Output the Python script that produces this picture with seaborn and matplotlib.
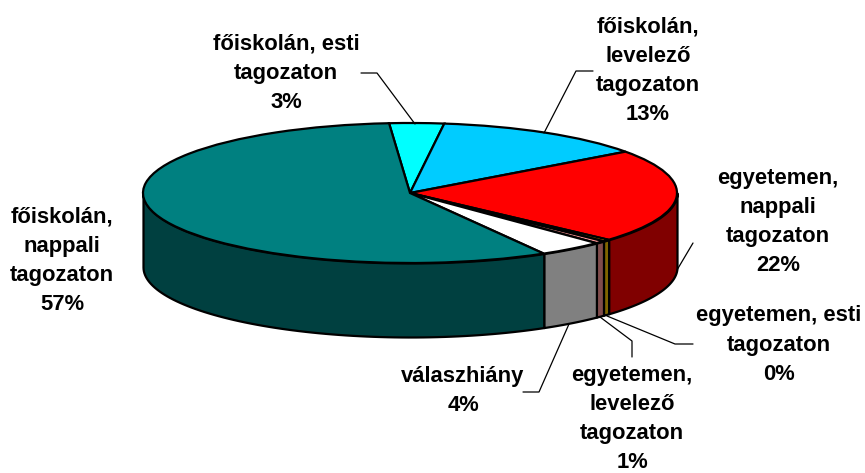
import numpy as np
import matplotlib
matplotlib.use("Agg")
import matplotlib.pyplot as plt
import seaborn as sns

labels = ["főiskolán, esti\ntagozaton\n3%", "főiskolán,\nlevelező\ntagozaton\n13%",
          "egyetemen,\nnappali\ntagozaton\n22%", "egyetemen, esti\ntagozaton\n0%",
          "egyetemen,\nlevelező\ntagozaton\n1%", "válaszhiány\n4%",
          "főiskolán,\nnappali\ntagozaton\n57%"]
values = [3.3, 12.9, 21.7, 0.45, 0.6, 3.95, 57.1]
top_colors = ["#00FFFF", "#00CCFF", "#FF0000", "#FFCC00", "#FF9999", "#FFFFFF", "#008080"]
side_colors = ["#008080", "#006680", "#800000", "#806600", "#804C4C", "#808080", "#004040"]

# pixel layout of the disc
W, H = 865, 473
cx, cy, rx, ry, depth = 410, 193, 267, 70, 74
start = 94.5

sns.set_theme(style="white")
plt.rcParams["font.family"] = ["Liberation Sans", "DejaVu Sans"]

fig = plt.figure(figsize=(W / 100, H / 100), dpi=100)
ax = fig.add_axes([0, 0, 1, 1])

# side wall, only the part of each slice facing front
angles = start - np.cumsum([0] + values) * 3.6
for i in range(len(values)):
    a1, a0 = angles[i], angles[i + 1]
    lo, hi = max(a0, -180), min(a1, 0)
    if lo < hi:
        t = np.radians(np.linspace(lo, hi, 80))
        ax.fill_between(np.cos(t), np.sin(t), np.sin(t) - depth / ry, color=side_colors[i],
                        edgecolor="black", linewidth=1.6, zorder=1)

wedges, _ = ax.pie(values, colors=top_colors, startangle=start, counterclock=False, radius=1,
                   wedgeprops={"edgecolor": "black", "linewidth": 1.6, "zorder": 2})

ax.set_aspect("auto")
ax.set_xlim(-cx / rx, (W - cx) / rx)
ax.set_ylim(-(H - cy) / ry, cy / ry)
ax.axis("off")

# overlay in pixel coordinates for labels and leader lines
ov = fig.add_axes([0, 0, 1, 1])
ov.set_xlim(0, W)
ov.set_ylim(H, 0)
ov.axis("off")
ov.patch.set_alpha(0)

label_xy = [(286, 73), (648, 71), (778, 222), (779, 345), (632, 419), (463, 391), (62, 261)]
leaders = [
    [(361, 73), (377, 73), (415, 124)],
    [(593, 71), (576, 71), (544, 133)],
    [(693, 243), (677, 270)],
    [(693, 344), (675, 344), (607, 316)],
    [(632, 357), (632, 341), (600, 317)],
    [(523, 392), (539, 392), (569, 324)],
]

for txt, (x, y) in zip(labels, label_xy):
    ov.text(x, y, txt, ha="center", va="center", fontsize=15.8, fontweight="bold",
            color="black", linespacing=1.52)
for pts in leaders:
    xs, ys = zip(*pts)
    ov.plot(xs, ys, color="black", linewidth=0.9)

fig.savefig("out.png", dpi=100, facecolor="white")
